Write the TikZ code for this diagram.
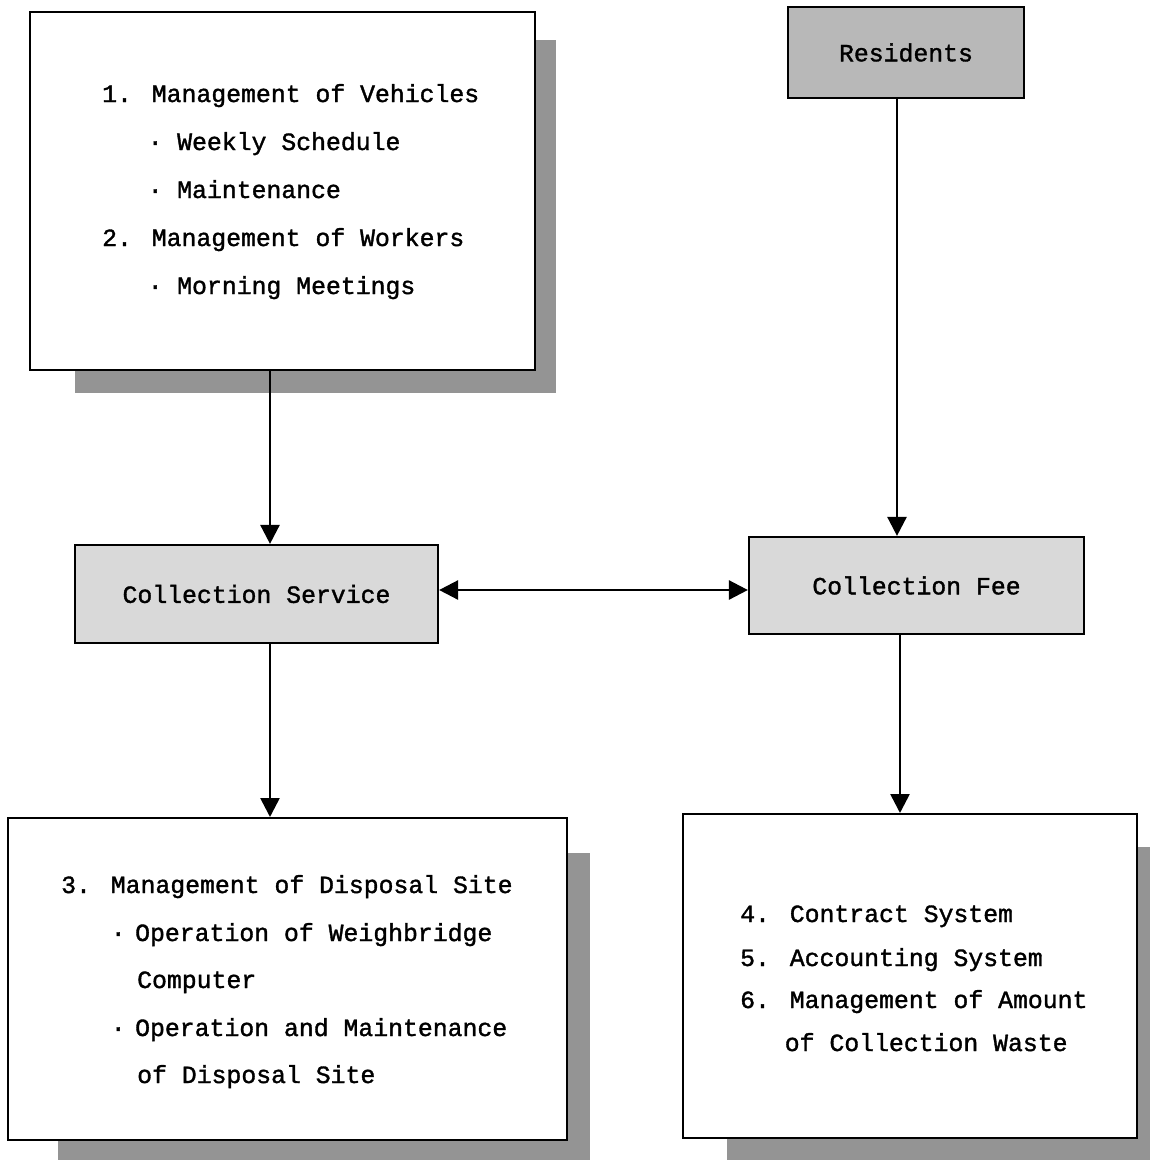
\documentclass[tikz,border=0pt]{standalone}
\usepackage{fontspec}
\newfontfamily\refmono[FakeBold=1.4]{Liberation Mono}
\usetikzlibrary{arrows.meta}
\newcommand{\bulA}{\hspace*{53pt}\makebox[0pt]{·}\hspace*{22pt}}
\newcommand{\bulB}{\hspace*{57pt}\makebox[0pt]{·}\hspace*{17pt}}
\tikzset{
  x=1pt,y=-1pt,
  txt/.style={font=\refmono\fontsize{24.8}{30}\selectfont,inner sep=0pt},
  line/.style={txt,anchor=base west},
  bigbox/.style={draw,line width=2pt,fill=white,inner sep=0pt},
  shadowbox/.style={fill=black!42},
  graybox/.style={draw,line width=2.2pt,inner sep=0pt,txt},
  conn/.style={line width=2.6pt,-{Triangle[length=19pt,width=19pt]}},
  dconn/.style={line width=2.6pt,{Triangle[length=19pt,width=19pt]}-{Triangle[length=19pt,width=19pt]}},
}
\begin{document}
\begin{tikzpicture}
\useasboundingbox[fill=white] (0,0) rectangle (1150,1160);
% shadows
\fill[shadowbox] (75,40) rectangle (556,393);
\fill[shadowbox] (58,853) rectangle (590,1160);
\fill[shadowbox] (727,847) rectangle (1150,1160);
% big boxes
\node[bigbox,minimum width=505pt,minimum height=358pt] (b1) at (282.5,191) {};
\node[bigbox,minimum width=559pt,minimum height=322pt] (b3) at (287.5,979) {};
\node[bigbox,minimum width=454pt,minimum height=324pt] (b6) at (910,976) {};
% box 1 text
\node[line] (t11) at (102,102) {1. Management of Vehicles};
\node[line] (t12) at (102,150) {\bulA Weekly Schedule};
\node[line] (t13) at (102,198) {\bulA Maintenance};
\node[line] (t14) at (102,246) {2. Management of Workers};
\node[line] (t15) at (102,294) {\bulA Morning Meetings};
% box 3 text
\node[line] (t31) at (61,893) {3. Management of Disposal Site};
\node[line] (t32) at (61,941) {\bulB Operation of Weighbridge};
\node[line] (t33) at (61,988) {\hspace*{76pt}Computer};
\node[line] (t34) at (61,1036) {\bulB Operation and Maintenance};
\node[line] (t35) at (61,1083) {\hspace*{76pt}of Disposal Site};
% box 6 text
\node[line] (t61) at (740,922) {4. Contract System};
\node[line] (t62) at (740,966) {5. Accounting System};
\node[line] (t63) at (740,1008) {6. Management of Amount};
\node[line] (t64) at (740,1051) {\hspace*{44.6pt}of Collection Waste};
% gray boxes
\node[graybox,fill=black!28,minimum width=236pt,minimum height=91pt] (res) at (906,52.5) {Residents};
\node[graybox,fill=black!15,minimum width=363pt,minimum height=98pt] (cs) at (256.5,594) {Collection Service};
\node[graybox,fill=black!15,minimum width=335pt,minimum height=97pt] (fee) at (916.5,585.5) {Collection Fee};
% connectors
\coordinate (xa) at (270,0);
\coordinate (xb) at (897,0);
\coordinate (xc) at (900,0);
\coordinate (ym) at (0,590);
\draw[conn] (b1.south -| xa) -- (cs.north -| xa);
\draw[conn] (cs.south -| xa) -- (b3.north -| xa);
\draw[conn] (res.south -| xb) -- (fee.north -| xb);
\draw[conn] (fee.south -| xc) -- (b6.north -| xc);
\draw[dconn] (cs.east |- ym) -- (fee.west |- ym);
\end{tikzpicture}
\end{document}
